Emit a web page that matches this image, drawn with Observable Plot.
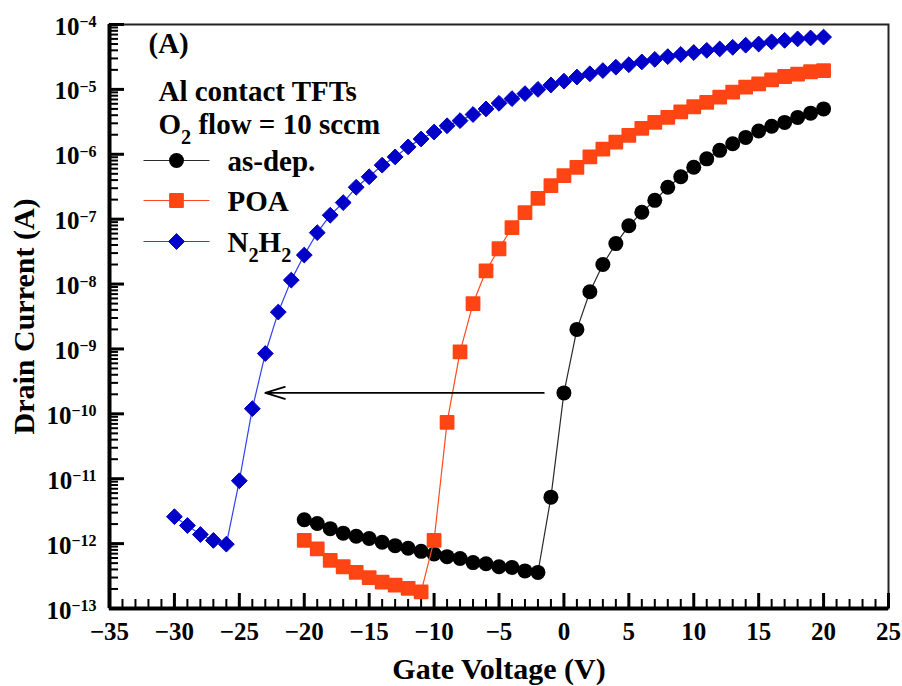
<!DOCTYPE html>
<html><head><meta charset="utf-8">
<script src="https://cdn.jsdelivr.net/npm/d3@7"></script>
<script src="https://cdn.jsdelivr.net/npm/@observablehq/plot@0.6"></script>
<style>html,body{margin:0;padding:0;background:#fff;} svg{display:block}</style>
</head><body><div id="chart"></div>
<script>
// ---- data ----
const asDepVoltage = d3.range(-20, 21);
const asDepCurrent = [2.33e-12, 2.04e-12, 1.7e-12, 1.45e-12, 1.3e-12, 1.2e-12, 1.05e-12, 9.3e-13, 8.5e-13, 7.6e-13,
  6.9e-13, 6.3e-13, 5.9e-13, 5.1e-13, 4.9e-13, 4.4e-13, 4.3e-13, 3.8e-13, 3.6e-13, 5.2e-12,
  2.1e-10, 2.0e-9, 7.6e-9, 2.0e-8, 4.2e-8, 7.9e-8, 1.28e-7, 1.95e-7, 3.1e-7, 4.5e-7,
  6.3e-7, 8.5e-7, 1.15e-6, 1.45e-6, 1.82e-6, 2.28e-6, 2.7e-6, 3.1e-6, 3.7e-6, 4.3e-6, 5.0e-6];

const poaVoltage = d3.range(-20, 21);
const poaCurrent = [1.12e-12, 8.3e-13, 5.5e-13, 4.4e-13, 3.6e-13, 3.0e-13, 2.55e-13, 2.3e-13, 2.05e-13, 1.8e-13,
  1.12e-12, 7.4e-11, 9.0e-10, 5.0e-9, 1.6e-8, 3.5e-8, 7.4e-8, 1.26e-7, 2.1e-7, 3.3e-7,
  4.7e-7, 6.3e-7, 9.1e-7, 1.2e-6, 1.54e-6, 1.95e-6, 2.5e-6, 3.1e-6, 3.7e-6, 4.5e-6,
  5.4e-6, 6.3e-6, 7.6e-6, 9.1e-6, 1.08e-5, 1.22e-5, 1.4e-5, 1.58e-5, 1.72e-5, 1.87e-5, 1.95e-5];

const n2h2Voltage = d3.range(-30, 21);
const n2h2Current = [2.6e-12, 1.9e-12, 1.38e-12, 1.12e-12, 0.98e-12, 9.3e-12, 1.2e-10, 8.5e-10, 3.7e-9, 1.15e-8,
  2.8e-8, 6.2e-8, 1.15e-7, 1.8e-7, 3.1e-7, 4.5e-7, 6.8e-7, 9.1e-7, 1.3e-6, 1.72e-6,
  2.2e-6, 2.75e-6, 3.3e-6, 4.1e-6, 5.0e-6, 6.1e-6, 7.2e-6, 8.6e-6, 1.0e-5, 1.17e-5,
  1.34e-5, 1.55e-5, 1.74e-5, 1.95e-5, 2.2e-5, 2.4e-5, 2.65e-5, 2.9e-5, 3.2e-5, 3.45e-5,
  3.7e-5, 4.0e-5, 4.2e-5, 4.45e-5, 4.8e-5, 5.0e-5, 5.4e-5, 5.7e-5, 6.0e-5, 6.2e-5, 6.4e-5];

const seriesNames = ["as-dep.", "POA", "N_2H_2"];
const annotationTexts = ["(A)", "Al contact TFTs", "O_2 flow = 10 sccm"];
const xTitle = "Gate Voltage (V)";
const yTitle = "Drain Current (A)";

const xTicks = [-35, -30, -25, -20, -15, -10, -5, 0, 5, 10, 15, 20, 25];
const xTickLabels = ["−35", "−30", "−25", "−20", "−15", "−10", "−5", "0", "5", "10", "15", "20", "25"];
const yTicks = [1e-13, 1e-12, 1e-11, 1e-10, 1e-9, 1e-8, 1e-7, 1e-6, 1e-5, 1e-4];
const yTickLabels = ["10^−13", "10^−12", "10^−11", "10^−10", "10^−9", "10^−8", "10^−7", "10^−6", "10^−5", "10^−4"];

// shift arrow (from as-dep. turn-on to N2H2 turn-on)
const arrowFromV = [-1.55];
const arrowToV = [-23.0];
const arrowCurrent = [2.1e-10];

// ---- derived tables ----
const rows = (v, c) => v.map((x, k) => ({v: x, i: c[k]}));
const asDep = rows(asDepVoltage, asDepCurrent);
const poa = rows(poaVoltage, poaCurrent);
const n2h2 = rows(n2h2Voltage, n2h2Current);
const arrowRows = arrowFromV.map((x, k) => ({x1: x, x2: arrowToV[k], y: arrowCurrent[k]}));

const xMinor = d3.range(-35, 26).filter(d => d % 5 !== 0);
const yMinor = [];
for (let e = -13; e <= -5; e++) for (let m = 2; m <= 9; m++) yMinor.push(+(m + "e" + e));

// ---- styles ----
const BLACK = "#000000", BLACK_LINE = "#2a2a2a";
const RED = "#ff4513", RED_LINE = "#ff4a1e";
const BLUE = "#0000c8", BLUE_LINE = "#3040ee";
const diamond = {draw(ctx, size) { const r = Math.sqrt(size) * 0.62; ctx.moveTo(0, -r); ctx.lineTo(r, 0); ctx.lineTo(0, r); ctx.lineTo(-r, 0); ctx.closePath(); }};
const legendLine = {draw(ctx) { ctx.moveTo(-33, 0); ctx.lineTo(33, 0); }};
const FS_TICK = 25, FS_NOTE = 29, FS_TITLE = 30;

const seriesStyle = [
  {line: BLACK_LINE, dot: {symbol: "circle", r: 7.5, fill: BLACK}},
  {line: RED_LINE, dot: {symbol: "square", r: 7.2, fill: RED, stroke: RED, strokeWidth: 2, strokeLinejoin: "round"}},
  {line: BLUE_LINE, dot: {symbol: diamond, r: 7.2, fill: BLUE, stroke: BLUE, strokeWidth: 1, strokeLinejoin: "round"}}
];

const legendRowsDy = [136, 176, 217];
const legendMarks = seriesNames.flatMap((name, k) => [
  Plot.dot([0], {frameAnchor: "top-left", dx: 67, dy: legendRowsDy[k], symbol: legendLine, stroke: seriesStyle[k].line, fill: "none", strokeWidth: 1.2}),
  Plot.dot([0], {frameAnchor: "top-left", dx: 67, dy: legendRowsDy[k], ...seriesStyle[k].dot}),
  Plot.text([name], {frameAnchor: "top-left", dx: 118, dy: legendRowsDy[k] + 10, text: d => d, textAnchor: "start", lineAnchor: "bottom", fontSize: FS_NOTE})
]);

const chart = Plot.plot({
  width: 902, height: 686,
  marginLeft: 109, marginRight: 14, marginTop: 24, marginBottom: 78,
  style: {fontFamily: "'Liberation Serif', 'Times New Roman', serif", fontWeight: "bold", background: "#fff", color: "#000", overflow: "visible"},
  x: {domain: [-35, 25]},
  y: {type: "log", domain: [1e-13, 1e-4]},
  marks: [
    Plot.frame({stroke: "#222", strokeWidth: 2}),
    // inward ticks
    Plot.axisX(xTicks, {tickSize: 15, dy: -15, strokeWidth: 3, tickFormat: () => "", label: null}),
    Plot.axisX(xMinor, {tickSize: 9, dy: -9, strokeWidth: 2, tickFormat: () => "", label: null}),
    Plot.axisY(yTicks, {tickSize: 15, dx: 15, strokeWidth: 3, tickFormat: () => "", label: null}),
    Plot.axisY(yMinor, {tickSize: 9, dx: 9, strokeWidth: 2, tickFormat: () => "", label: null}),
    // tick labels
    Plot.axisX(xTicks, {tickSize: 0, tickPadding: 14, fontSize: FS_TICK, tickFormat: d => xTickLabels[xTicks.indexOf(d)], label: null}),
    Plot.axisY(yTicks, {tickSize: 0, tickPadding: 13, dy: 2, fontSize: FS_TICK, tickFormat: d => yTickLabels[yTicks.indexOf(d)], label: null}),
    // axis lines
    Plot.ruleX([-35], {stroke: "#000", strokeWidth: 4}),
    Plot.ruleY([1e-13], {stroke: "#000", strokeWidth: 4}),
    // data
    Plot.line(asDep, {x: "v", y: "i", stroke: BLACK_LINE, strokeWidth: 1.2}),
    Plot.dot(asDep, {x: "v", y: "i", ...seriesStyle[0].dot}),
    Plot.line(poa, {x: "v", y: "i", stroke: RED_LINE, strokeWidth: 1.2}),
    Plot.dot(poa, {x: "v", y: "i", ...seriesStyle[1].dot}),
    Plot.line(n2h2, {x: "v", y: "i", stroke: BLUE_LINE, strokeWidth: 1.2}),
    Plot.dot(n2h2, {x: "v", y: "i", ...seriesStyle[2].dot}),
    Plot.arrow(arrowRows, {x1: "x1", x2: "x2", y1: "y", y2: "y", stroke: "#000", strokeWidth: 1.8, headAngle: 34, headLength: 17}),
    // annotations
    Plot.text([annotationTexts[0]], {frameAnchor: "top-left", dx: 39, dy: 28, text: d => d, textAnchor: "start", lineAnchor: "bottom", fontSize: FS_NOTE}),
    Plot.text([annotationTexts[1]], {frameAnchor: "top-left", dx: 49, dy: 76, text: d => d, textAnchor: "start", lineAnchor: "bottom", fontSize: FS_NOTE}),
    Plot.text([annotationTexts[2]], {frameAnchor: "top-left", dx: 49, dy: 109, text: d => d, textAnchor: "start", lineAnchor: "bottom", fontSize: FS_NOTE}),
    ...legendMarks,
    // axis titles
    Plot.text([xTitle], {frameAnchor: "bottom", dy: 70, text: d => d, textAnchor: "middle", lineAnchor: "bottom", fontSize: FS_TITLE}),
    Plot.text([yTitle], {frameAnchor: "left", dx: -76, rotate: -90, text: d => d, textAnchor: "middle", lineAnchor: "bottom", fontSize: FS_TITLE})
  ]
});

document.getElementById("chart").appendChild(chart);

// rich text: "^" -> superscript (rest of string), "_" -> one-character subscript
(function richText(svg) {
  const ns = "http://www.w3.org/2000/svg";
  svg.querySelectorAll("text").forEach(t => {
    const s = t.textContent;
    if (!s.includes("^") && !s.includes("_")) return;
    const fs = parseFloat(getComputedStyle(t).fontSize) || 24;
    t.textContent = "";
    const add = (str, attrs) => {
      const ts = document.createElementNS(ns, "tspan");
      ts.textContent = str;
      for (const k in attrs) ts.setAttribute(k, attrs[k]);
      t.appendChild(ts);
    };
    let buf = "", pending = 0, i = 0;
    const flush = () => { if (buf) { add(buf, pending ? {dy: pending} : {}); pending = 0; buf = ""; } };
    while (i < s.length) {
      const c = s[i];
      if (c === "^") {
        flush();
        add(s.slice(i + 1), {dy: -(0.3 * fs), "font-size": (0.64 * fs).toFixed(1)});
        break;
      } else if (c === "_") {
        flush();
        const drop = 0.37 * fs;
        add(s[i + 1], {dy: drop + pending, "font-size": (0.7 * fs).toFixed(1)});
        pending = -drop;
        i += 2;
      } else { buf += c; i++; }
    }
    flush();
  });
})(chart);
</script>
</body></html>
